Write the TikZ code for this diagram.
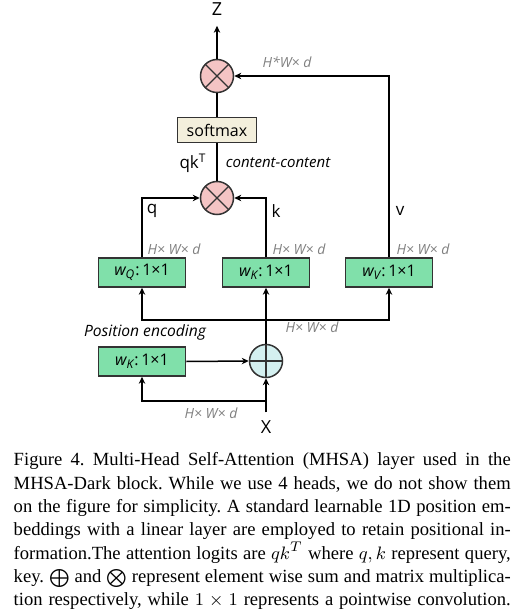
\documentclass[tikz,border=0pt]{standalone}
\usepackage{fontspec}
\setmainfont{Liberation Serif}
\newfontfamily\diafont{Open Sans}
\usepackage{amsmath}
\usetikzlibrary{arrows.meta}
\definecolor{wgreen}{HTML}{80E0AA}
\definecolor{mulpink}{HTML}{F4C4C4}
\definecolor{addcyan}{HTML}{D4F0F0}
\definecolor{softbeige}{HTML}{F3EFDC}
\definecolor{labgray}{HTML}{7F7F7F}
\newcommand{\capline}[1]{\makebox[248.5pt][s]{#1}}

\begin{document}
\begin{tikzpicture}[x=0.5pt, y=-0.5pt, line width=0.75pt,
    arr/.style={-{Stealth[length=3.5pt,width=3.2pt]}},
    wbox/.style={draw=black!80, fill=wgreen, minimum width=43.5pt, minimum height=14.5pt, inner sep=0pt, font=\diafont\fontsize{8}{9.6}\selectfont},
    mulop/.style={circle, draw=black!80, fill=mulpink, minimum size=16.5pt, inner sep=0pt,
        path picture={\draw[line width=0.6pt] (path picture bounding box.north west) -- (path picture bounding box.south east)
            (path picture bounding box.north east) -- (path picture bounding box.south west);}},
    addop/.style={circle, draw=black!80, fill=addcyan, minimum size=16.5pt, inner sep=0pt,
        path picture={\draw[line width=0.6pt] (path picture bounding box.north) -- (path picture bounding box.south)
            (path picture bounding box.west) -- (path picture bounding box.east);}},
    dimlab/.style={text=labgray, inner sep=0pt, font=\diafont\itshape\fontsize{7}{8}\selectfont},
    vlab/.style={inner sep=0pt, font=\diafont\fontsize{8.5}{10}\selectfont}]
    \useasboundingbox (0,0) rectangle (518,614);
    % 上部: softmax 与矩阵乘
    \node[vlab, font=\diafont\fontsize{9}{10}\selectfont] (zlab) at (217,9) {Z};
    \node[mulop] (mul2) at (217,76) {};
    \node[draw=black!80, fill=softbeige, minimum width=39.5pt, minimum height=12.5pt, inner sep=0pt, font=\diafont\fontsize{8}{9.6}\selectfont] (soft) at (217,130) {softmax};
    \node[mulop] (mul1) at (217,198) {};
    % q k v 卷积
    \node[wbox] (wq) at (142,272.5) {{\itshape w}\textsubscript{\itshape Q}:\,1×1};
    \node[wbox] (wk) at (266,272.5) {{\itshape w}\textsubscript{\itshape K}:\,1×1};
    \node[wbox] (wv) at (389,272.5) {{\itshape w}\textsubscript{\itshape V}:\,1×1};
    \coordinate (split) at (266,320);
    % 位置编码
    \node[addop] (add) at (266,361) {};
    \node[wbox] (pos) at (142,361.5) {{\itshape w}\textsubscript{\itshape K}:\,1×1};
    \coordinate (xsplit) at (266,401);
    \node[vlab, font=\diafont\fontsize{9}{10}\selectfont] (xlab) at (266,427) {X};
    % 连线
    \draw[arr, shorten >=4.8pt] (mul2) -- (zlab);
    \draw[arr] (wv.north) |- (mul2.east);
    \draw (soft) -- (mul2);
    \draw (mul1) -- (soft);
    \draw[arr] (wq.north) |- (mul1.west);
    \draw[arr] (wk.north) |- (mul1.east);
    \draw[arr] (add.north) -- (wk.south);
    \draw[arr] (split) -| (wq.south);
    \draw[arr] (split) -| (wv.south);
    \draw[arr] (pos.east) -- (add.west);
    \draw[arr, shorten <=3.7pt] (xlab) -- (add.south);
    \draw[arr] (xsplit) -| (pos.south);
    % 标签
    \node[dimlab] (dtop) at (287,62) {H*W× d};
    \node[vlab] (qklab) at (193,163) {qk\textsuperscript{T}};
    \node[vlab, font=\diafont\itshape\fontsize{7.5}{9}\selectfont] (cclab) at (278,163) {content-content};
    \node[vlab] (qlab) at (152,211) {q};
    \node[vlab] (klab) at (276,211) {k};
    \node[vlab] (vlab) at (400,211) {v};
    \node[dimlab] (dq) at (174,249) {H× W× d};
    \node[dimlab] (dk) at (299,249) {H× W× d};
    \node[dimlab] (dv) at (423,249) {H× W× d};
    \node[dimlab] (dsplit) at (312,327) {H× W× d};
    \node[vlab, font=\diafont\itshape\fontsize{7.8}{9}\selectfont] (poslab) at (145,332) {Position encoding};
    \node[dimlab] (dx) at (211,413) {H× W× d};
    % 图注
    \node[anchor=north west, inner sep=0pt, align=left, font=\fontsize{9.3}{11.67}\selectfont\frenchspacing] (caption) at (13,452) {%
        \capline{Figure 4. Multi-Head Self-Attention (MHSA) layer used in the}\\
        \capline{MHSA-Dark block. While we use 4 heads, we do not show them}\\
        \capline{on the figure for simplicity. A standard learnable 1D position em-}\\
        \capline{beddings with a linear layer are employed to retain positional in-}\\
        \capline{formation.The attention logits are $qk^T$ where $q,k$ represent query,}\\
        \capline{key. $\smash{\bigoplus}$ and $\smash{\bigotimes}$ represent element wise sum and matrix multiplica-}\\
        \capline{tion respectively, while $1\times 1$ represents a pointwise convolution.}};
\end{tikzpicture}
\end{document}
